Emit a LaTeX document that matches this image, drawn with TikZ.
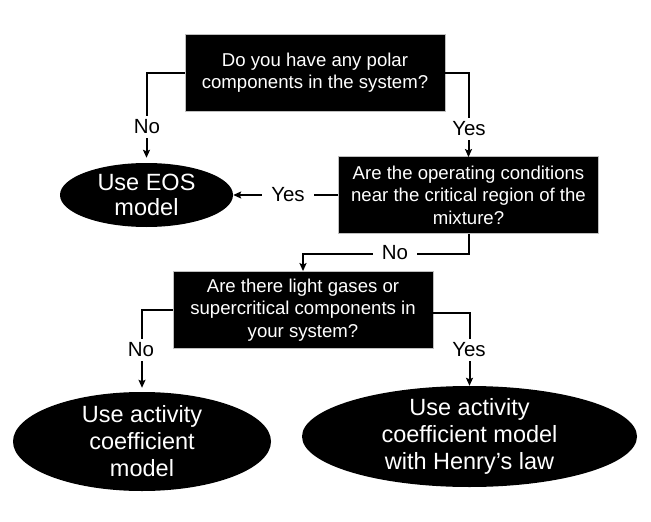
\documentclass[tikz,border=0pt]{standalone}
\usepackage{fontspec}
\setmainfont{Liberation Sans}
\usetikzlibrary{shapes.geometric,arrows.meta}
\tikzset{
  qbox/.style={rectangle, fill=black, draw=gray!50, line width=0.8pt, text=white,
    minimum width=260pt, minimum height=77pt, inner sep=0pt, align=center,
    font=\fontsize{18.6}{22.5}\selectfont},
  endell/.style={ellipse, fill=black, draw=none, inner sep=0pt},
  etext/.style={text=white, align=center, inner sep=0pt, font=\fontsize{23.5}{27}\selectfont},
  conn/.style={line width=2pt, -{Stealth[length=8pt,width=7pt,inset=1.5pt]}},
  lbl/.style={fill=white, inner xsep=9pt, inner ysep=4pt, font=\fontsize{20.5}{24}\selectfont}
}
\begin{document}
\begin{tikzpicture}[x=1pt,y=-1pt]
\useasboundingbox (0,0) rectangle (651,522);
% question boxes
\node[qbox] (b1) at (315,72.5) {Do you have any polar\\components in the system?};
\node[qbox] (b2) at (468.5,195) {Are the operating conditions\\near the critical region of the\\mixture?};
\node[qbox] (b3) at (303,310) {Are there light gases or\\supercritical components in\\your system?};
% end ellipses
\node[endell, minimum width=173pt, minimum height=64pt] (e1) at (146.5,195) {};
\node[etext, font=\fontsize{23.5}{25.5}\selectfont] (t1) at (e1) {Use EOS\\model};
\node[endell, minimum width=258pt, minimum height=99pt] (e3) at (142,441.5) {};
\node[etext] (t3) at (e3) {Use activity\\coefficient\\model};
\node[endell, minimum width=335pt, minimum height=101pt] (e4) at (469.5,436.5) {};
\node[etext] (t4) at (e4) {Use activity\\coefficient model\\with Henry’s law};
% connectors
\draw[conn, shorten >=5pt] (b1.west) -| (e1.north);
\draw[conn] (b1.east) -| ([yshift=-1pt]b2.north);
\draw[conn] (b2.west) -- (e1.east);
\draw[conn] (b2.south) -- ++(0,20) coordinate (c1) -| (b3.north);
\draw[conn, shorten >=4pt] (b3.west) -| (e3.north);
\draw[conn] ([yshift=-3pt]b3.east) -| (e4.north);
% labels
\node[lbl] (l1) at (147,127) {No};
\node[lbl] (l2) at (469,129) {Yes};
\node[lbl] (l3) at (288,195) {Yes};
\node[lbl] (l4) at (395,253) {No};
\node[lbl] (l5) at (141,350) {No};
\node[lbl] (l6) at (469,350) {Yes};
\end{tikzpicture}
\end{document}
